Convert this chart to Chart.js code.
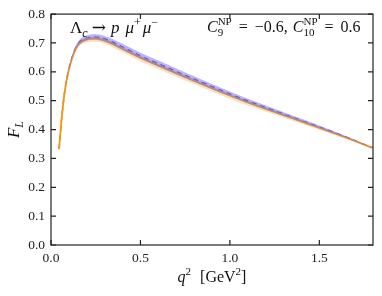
<!DOCTYPE html>
<html>
<head>
<meta charset="utf-8">
<script src="https://cdn.jsdelivr.net/npm/chart.js@4"></script>
<style>
  html, body { margin: 0; padding: 0; background: #fff; }
  #wrap { width: 382px; height: 296px; }
</style>
</head>
<body>
<div id="wrap"><canvas id="myChart" width="382" height="296"></canvas></div>
<script>
// q^2 grid and F_L curves
const q2 = [0.045, 0.06, 0.08, 0.1, 0.125, 0.15, 0.2, 0.25, 0.3, 0.4, 0.5, 0.6, 0.75, 0.9, 1.0, 1.1, 1.25, 1.4, 1.5, 1.65, 1.8];
const flOrange = [0.332, 0.44, 0.545, 0.607, 0.660, 0.692, 0.713, 0.716, 0.709, 0.680, 0.649, 0.622, 0.582, 0.543, 0.518, 0.494, 0.461, 0.428, 0.406, 0.372, 0.336];
const flDashed = [0.332, 0.441, 0.547, 0.610, 0.663, 0.696, 0.717, 0.720, 0.714, 0.686, 0.655, 0.628, 0.588, 0.549, 0.523, 0.499, 0.465, 0.431, 0.409, 0.374, 0.336];
const blueHi = [0.333, 0.443, 0.551, 0.615, 0.670, 0.704, 0.726, 0.730, 0.724, 0.697, 0.666, 0.639, 0.598, 0.558, 0.532, 0.507, 0.472, 0.437, 0.414, 0.377, 0.337];
const blueLo = [0.331, 0.439, 0.543, 0.604, 0.656, 0.688, 0.708, 0.711, 0.704, 0.676, 0.645, 0.618, 0.578, 0.540, 0.515, 0.491, 0.458, 0.425, 0.404, 0.371, 0.335];
const orangeHi = [0.333, 0.442, 0.548, 0.611, 0.665, 0.698, 0.719, 0.722, 0.715, 0.687, 0.656, 0.629, 0.589, 0.550, 0.524, 0.500, 0.466, 0.432, 0.410, 0.375, 0.337];
const orangeLo = [0.331, 0.437, 0.540, 0.600, 0.651, 0.682, 0.702, 0.704, 0.697, 0.668, 0.637, 0.610, 0.570, 0.532, 0.507, 0.484, 0.452, 0.420, 0.399, 0.367, 0.335];

const xTicks = [0, 0.5, 1.0, 1.5];
const yTicks = [0, 0.1, 0.2, 0.3, 0.4, 0.5, 0.6, 0.7, 0.8];

const serif = '"Liberation Serif", "DejaVu Serif", serif';

function pts(vals) {
  return q2.map((x, i) => ({ x: x, y: vals[i] }));
}

function setFont(ctx, s, size) {
  ctx.font = (s.it ? 'italic ' : '') + size + 'px ' + (s.fam || serif);
}

// a piece: main text, optional sup / sub stacked after it, gap after
function pieceWidth(ctx, s) {
  setFont(ctx, s, s.size);
  let w = ctx.measureText(s.t).width;
  let extra = 0;
  ctx.font = (s.subIt ? 'italic ' : '') + Math.round(s.size * 0.7) + 'px ' + serif;
  if (s.sup) extra = Math.max(extra, ctx.measureText(s.sup).width);
  if (s.sub) extra = Math.max(extra, ctx.measureText(s.sub).width);
  return w + extra + (s.gap || 0);
}
function richWidth(ctx, segs) {
  return segs.reduce((w, s) => w + pieceWidth(ctx, s), 0);
}
function drawRich(ctx, x, y, segs) {
  for (const s of segs) {
    setFont(ctx, s, s.size);
    ctx.fillText(s.t, x, y);
    const w = ctx.measureText(s.t).width;
    const small = Math.round(s.size * 0.7);
    ctx.font = (s.subIt ? 'italic ' : '') + small + 'px ' + serif;
    if (s.sup) ctx.fillText(s.sup, x + w, y - s.size * 0.42);
    if (s.sub) ctx.fillText(s.sub, x + w, y + s.size * 0.22);
    x += pieceWidth(ctx, s);
  }
}

const framePlugin = {
  id: 'frame',
  afterDraw(chart) {
    const ctx = chart.ctx;
    const a = chart.chartArea;
    const xs = chart.scales.x, ys = chart.scales.y;
    ctx.save();
    ctx.strokeStyle = '#222';
    ctx.lineWidth = 1.2;
    ctx.strokeRect(a.left, a.top, a.right - a.left, a.bottom - a.top);
    ctx.beginPath();
    xTicks.forEach(v => {
      const px = xs.getPixelForValue(v);
      ctx.moveTo(px, a.bottom); ctx.lineTo(px, a.bottom - 5);
      ctx.moveTo(px, a.top); ctx.lineTo(px, a.top + 5);
    });
    yTicks.forEach(v => {
      const py = ys.getPixelForValue(v);
      ctx.moveTo(a.left, py); ctx.lineTo(a.left + 5, py);
      ctx.moveTo(a.right, py); ctx.lineTo(a.right - 5, py);
    });
    ctx.stroke();

    ctx.fillStyle = '#111';
    ctx.textBaseline = 'alphabetic';
    ctx.textAlign = 'left';

    // process label
    drawRich(ctx, 70, 33, [
      { t: 'Λ', size: 17, sub: 'c', subIt: true, gap: 4 },
      { t: '→', size: 17, fam: '"DejaVu Serif", serif', gap: 5 },
      { t: 'p', size: 17, it: true, gap: 6 },
      { t: 'μ', size: 17, it: true, sup: '+', gap: 2 },
      { t: 'μ', size: 17, it: true, sup: '−' }
    ]);

    // Wilson coefficients label
    drawRich(ctx, 207, 32, [
      { t: 'C', size: 16, it: true, sup: 'NP', sub: '9', gap: 7 },
      { t: '=', size: 16, gap: 7 },
      { t: '−0.6,', size: 16, gap: 5 },
      { t: 'C', size: 16, it: true, sup: 'NP', sub: '10', gap: 7 },
      { t: '=', size: 16, gap: 7 },
      { t: '0.6', size: 16 }
    ]);

    // x title
    const xt = [
      { t: 'q', size: 16, it: true, sup: '2', gap: 9 },
      { t: '[GeV', size: 16, sup: '2' },
      { t: ']', size: 16 }
    ];
    const xw = richWidth(ctx, xt);
    drawRich(ctx, (a.left + a.right) / 2 - xw / 2, 282, xt);

    // y title
    ctx.translate(19, (a.top + a.bottom) / 2);
    ctx.rotate(-Math.PI / 2);
    const yt = [{ t: 'F', size: 17, it: true, sub: 'L', subIt: true }];
    const yw = richWidth(ctx, yt);
    drawRich(ctx, -yw / 2, 0, yt);
    ctx.restore();
  }
};

const ctx = document.getElementById('myChart');

new Chart(ctx, {
  type: 'line',
  data: {
    datasets: [
      { data: pts(blueLo), borderWidth: 0, pointRadius: 0, fill: false },
      { data: pts(blueHi), borderWidth: 0, pointRadius: 0, fill: '-1', backgroundColor: 'rgba(105,105,255,0.5)' },
      { data: pts(orangeLo), borderWidth: 0, pointRadius: 0, fill: false },
      { data: pts(orangeHi), borderWidth: 0, pointRadius: 0, fill: '-1', backgroundColor: 'rgba(255,175,50,0.4)' },
      { data: pts(flOrange), borderColor: '#ff9800', borderWidth: 1.8, pointRadius: 0, fill: false },
      { data: pts(flDashed), borderColor: '#2a2aa8', borderWidth: 1.3, borderDash: [5, 4], pointRadius: 0, fill: false }
    ]
  },
  options: {
    responsive: false,
    animation: false,
    devicePixelRatio: 1,
    layout: { padding: { top: 13, right: 9, left: 0, bottom: 0 } },
    plugins: { legend: { display: false }, tooltip: { enabled: false } },
    elements: { line: { cubicInterpolationMode: 'monotone' } },
    scales: {
      x: {
        type: 'linear', min: 0, max: 1.8,
        grid: { display: false, drawTicks: false },
        border: { display: false },
        afterFit: s => { s.height = 51; },
        afterBuildTicks: s => { s.ticks = xTicks.map(v => ({ value: v })); },
        ticks: {
          padding: 5, color: '#222', maxRotation: 0,
          font: { family: serif, size: 13.5 },
          callback: v => Number(v).toFixed(1)
        }
      },
      y: {
        type: 'linear', min: 0, max: 0.8,
        grid: { display: false, drawTicks: false },
        border: { display: false },
        afterFit: s => { s.width = 51; },
        afterBuildTicks: s => { s.ticks = yTicks.map(v => ({ value: v })); },
        ticks: {
          padding: 6, color: '#222',
          font: { family: serif, size: 13.5 },
          callback: v => Number(v).toFixed(1)
        }
      }
    }
  },
  plugins: [framePlugin]
});
</script>
</body>
</html>
